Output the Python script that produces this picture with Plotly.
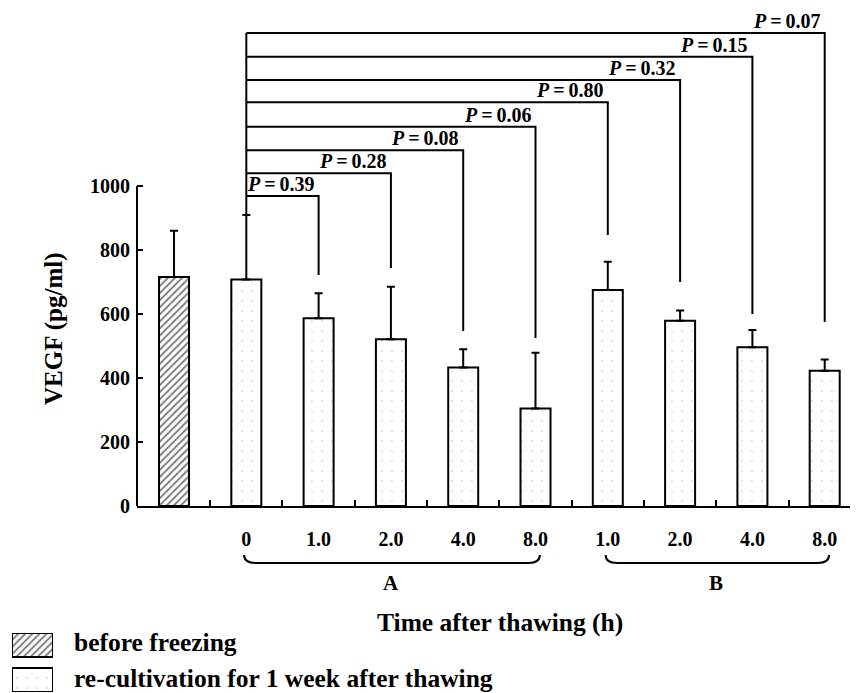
import plotly.graph_objects as go

# ---------------- data ----------------
categories = ["before freezing", "A 0", "A 1.0", "A 2.0", "A 4.0", "A 8.0",
              "B 1.0", "B 2.0", "B 4.0", "B 8.0"]
tick_labels = ["", "0", "1.0", "2.0", "4.0", "8.0", "1.0", "2.0", "4.0", "8.0"]
vegf_mean = [716, 708, 587, 521, 433, 305, 675, 579, 496, 423]
vegf_sd = [144, 201, 78, 164, 57, 174, 88, 32, 54, 35]
p_values = ["0.39", "0.28", "0.08", "0.06", "0.80", "0.32", "0.15", "0.07"]
bracket_levels = [969, 1040, 1112, 1185, 1262, 1331, 1404, 1478]
bracket_drops = [722, 744, 547, 525, 847, 700, 600, 575]
groups = ["A", "B"]
group_first = [1, 6]
group_last = [5, 9]
legend_labels = ["before freezing", "re-cultivation for 1 week after thawing"]
y_ticks = [0, 200, 400, 600, 800, 1000]

FONT = "Liberation Serif, Times New Roman, serif"
W, H = 856, 693
ML, MR, MT, MB = 8, 6, 26, 0
PW, PH = W - ML - MR, H - MT - MB


def px_x(px):
    return (px - ML) / PW


def px_y(py):
    return (H - MB - py) / PH


positions = list(range(len(categories)))
bar_w = 0.415

hatch = dict(shape="/", fgcolor="black", bgcolor="white", size=5, solidity=0.4)
stipple = dict(shape=".", fgcolor="#b5b5b5", bgcolor="white", size=10, solidity=0.03)

fig = go.Figure()

# before freezing bar (hatched)
fig.add_trace(go.Bar(
    x=positions[:1], y=vegf_mean[:1], width=bar_w,
    marker=dict(color="white", line=dict(color="black", width=2), pattern=hatch),
    error_y=dict(type="data", symmetric=False, array=vegf_sd[:1], arrayminus=[0],
                 color="black", thickness=2, width=4),
    xaxis="x", yaxis="y", showlegend=False, hoverinfo="skip"))

# re-cultivation bars (stippled)
fig.add_trace(go.Bar(
    x=positions[1:], y=vegf_mean[1:], width=bar_w,
    marker=dict(color="white", line=dict(color="black", width=2), pattern=stipple),
    error_y=dict(type="data", symmetric=False, array=vegf_sd[1:], arrayminus=[0] * 9,
                 color="black", thickness=2, width=4),
    xaxis="x", yaxis="y", showlegend=False, hoverinfo="skip"))

# dummy trace for the half-position tick axis
fig.add_trace(go.Scatter(x=[], y=[], xaxis="x2", yaxis="y", showlegend=False))

# legend key boxes (mini subplot)
fig.add_trace(go.Bar(
    x=[1], y=[1], orientation="h", width=0.686,
    marker=dict(color="white", line=dict(color="black", width=2), pattern=hatch),
    xaxis="x3", yaxis="y3", showlegend=False, hoverinfo="skip"))
fig.add_trace(go.Bar(
    x=[1], y=[0], orientation="h", width=0.686,
    marker=dict(color="white", line=dict(color="black", width=2), pattern=stipple),
    xaxis="x3", yaxis="y3", showlegend=False, hoverinfo="skip"))

x_range = [-0.512, 9.35]
x_dom = [px_x(137), 1]
y_dom = [px_y(506), 1]

shapes = []
# y-axis line (0..1000 only)
shapes.append(dict(type="line", xref="paper", yref="y", x0=x_dom[0], x1=x_dom[0],
                   y0=0, y1=y_ticks[-1], line=dict(color="black", width=2)))
# left vertical of the comparison brackets
shapes.append(dict(type="line", xref="x", yref="y", x0=1, x1=1,
                   y0=vegf_mean[1] + vegf_sd[1], y1=max(bracket_levels),
                   line=dict(color="black", width=2)))
annotations = []
for k, (lvl, drop, p) in enumerate(zip(bracket_levels, bracket_drops, p_values)):
    xi = positions[k + 2]
    shapes.append(dict(type="path", xref="x", yref="y",
                       path=f"M 1,{lvl} L {xi},{lvl} L {xi},{drop}",
                       line=dict(color="black", width=2)))
    annotations.append(dict(x=xi, y=lvl, xref="x", yref="y", xanchor="right", yanchor="bottom",
                            xshift=-2, yshift=-1, showarrow=False,
                            text=f"<i>P</i>\u2009=\u2009{p}",
                            font=dict(family=FONT, size=20, color="black", weight="bold")))

# braces under the groups
yb_top, yb_bot = px_y(555), px_y(563)
for g, a, b in zip(groups, group_first, group_last):
    x0, x1 = a - 0.03, b + 0.06
    c = 0.16
    shapes.append(dict(type="path", xref="x", yref="paper",
                       path=(f"M {x0},{yb_top} Q {x0},{yb_bot} {x0 + c},{yb_bot} "
                             f"L {x1 - c},{yb_bot} Q {x1},{yb_bot} {x1},{yb_top}"),
                       line=dict(color="black", width=2)))
    annotations.append(dict(x=(a + b) / 2, y=px_y(583), xref="x", yref="paper",
                            xanchor="center", yanchor="middle", showarrow=False, text=g,
                            font=dict(family=FONT, size=21, color="black", weight="bold")))

# axis titles
annotations.append(dict(x=px_x(500), y=px_y(622), xref="paper", yref="paper",
                        xanchor="center", yanchor="middle", showarrow=False,
                        text="Time after thawing (h)",
                        font=dict(family=FONT, size=25.5, color="black", weight="bold")))
annotations.append(dict(x=px_x(54), y=px_y(329), xref="paper", yref="paper",
                        xanchor="center", yanchor="middle", showarrow=False, textangle=-90,
                        text="VEGF (pg/ml)",
                        font=dict(family=FONT, size=25, color="black", weight="bold")))
# legend texts
for lab, yc in zip(legend_labels, [642, 678]):
    annotations.append(dict(x=px_x(72), y=px_y(yc), xref="paper", yref="paper",
                            xanchor="left", yanchor="middle", showarrow=False, text=lab,
                            font=dict(family=FONT, size=25.5, color="black", weight="bold")))

tick_font = dict(family=FONT, size=20, color="black", weight="bold")

fig.update_layout(
    width=W, height=H,
    margin=dict(l=ML, r=MR, t=MT, b=MB, autoexpand=False),
    paper_bgcolor="white", plot_bgcolor="white",
    barmode="overlay", showlegend=False,
    xaxis=dict(domain=x_dom, range=x_range, anchor="y", automargin=False,
               tickmode="array", tickvals=positions, ticktext=tick_labels,
               ticks="", showline=True, linecolor="black", linewidth=2,
               showgrid=False, zeroline=False, tickfont=tick_font, ticklabelstandoff=14),
    xaxis2=dict(domain=x_dom, range=x_range, anchor="y", overlaying="x", automargin=False,
                tickmode="array", tickvals=[p + 0.5 for p in positions[:-1]],
                ticks="inside", ticklen=6, tickwidth=2, tickcolor="black",
                showticklabels=False, showline=False, showgrid=False, zeroline=False),
    yaxis=dict(domain=y_dom, range=[0, 1500], anchor="x", automargin=False,
               tickmode="array", tickvals=y_ticks, ticks="inside", ticklen=6, tickwidth=2,
               tickcolor="black", showline=False, showgrid=False, zeroline=False,
               tickfont=tick_font, ticklabelstandoff=6),
    xaxis3=dict(domain=[px_x(12), px_x(53)], range=[0, 1], anchor="y3", visible=False,
                fixedrange=True),
    yaxis3=dict(domain=[px_y(692), px_y(633)], range=[-0.343, 1.343], anchor="x3",
                visible=False, fixedrange=True),
    shapes=shapes, annotations=annotations,
)

fig.write_html("out.html",
               config={"displayModeBar": False},
               post_script="document.body.style.margin='0';"
                           "document.documentElement.style.overflow='hidden';")
